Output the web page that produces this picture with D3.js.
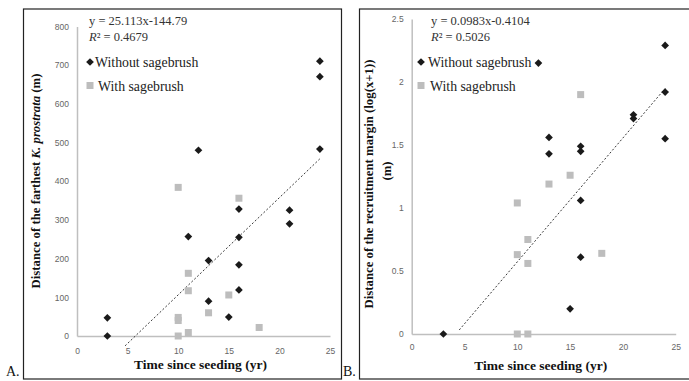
<!DOCTYPE html>
<html>
<head>
<meta charset="utf-8">
<script src="https://cdn.jsdelivr.net/npm/d3@7"></script>
<style>
  body { margin: 0; background: #fff; }
  svg { display: block; }
  .tick text { font-family: "Liberation Sans", sans-serif; font-size: 8.5px; fill: #666; }
  .serif { font-family: "Liberation Serif", "DejaVu Serif", serif; }
</style>
</head>
<body>
<svg id="chart" width="689" height="381"></svg>
<script>
// panel A : farthest K. prostrata (m)
var aWithoutX = [3, 3, 11, 12, 13, 13, 15, 16, 16, 16, 16, 21, 21, 24, 24, 24];
var aWithoutY = [47, 0, 257, 480, 195, 90, 49, 328, 255, 184, 119, 325, 290, 710, 670, 483];
var aWithX = [10, 10, 10, 10, 11, 11, 11, 13, 15, 16, 18];
var aWithY = [384, 48, 40, 0, 162, 117, 9, 60, 106, 356, 22];
var aXTicks = [0, 5, 10, 15, 20, 25];
var aYTicks = [0, 100, 200, 300, 400, 500, 600, 700, 800];

// panel B : recruitment margin (log(x+1)) (m)
var bWithoutX = [3, 12, 13, 13, 15, 16, 16, 16, 16, 21, 21, 24, 24, 24];
var bWithoutY = [0, 2.15, 1.56, 1.43, 0.2, 1.49, 1.45, 1.06, 0.61, 1.74, 1.71, 2.29, 1.92, 1.55];
var bWithX = [10, 10, 10, 11, 11, 11, 13, 15, 16, 18];
var bWithY = [1.04, 0.63, 0, 0.75, 0.56, 0, 1.19, 1.26, 1.9, 0.64];
var bXTicks = [0, 5, 10, 15, 20, 25];
var bYTicks = [0, 0.5, 1, 1.5, 2, 2.5];

var svg = d3.select("#chart");

function zip(xs, ys) {
  return xs.map((x, i) => ({ x: x, y: ys[i] }));
}

function drawPanel(p) {
  let g = svg.append("g");

  // outer frame
  g.append("rect")
    .attr("x", p.box[0]).attr("y", p.box[1])
    .attr("width", p.box[2]).attr("height", p.box[3])
    .attr("fill", "none").attr("stroke", "#222").attr("stroke-width", 1.2);

  let xScale = d3.scaleLinear().domain([0, 25]).range(p.xRange);
  let yScale = d3.scaleLinear().domain(p.yDomain).range(p.yRange);

  g.append("g")
    .attr("transform", "translate(" + p.xRange[0] + ",0)")
    .call(d3.axisLeft(yScale).tickValues(p.yTicks).tickFormat(d => String(d))
      .tickSize(0).tickPadding(8).tickSizeOuter(0));
  g.append("g")
    .attr("transform", "translate(0," + p.yRange[0] + ")")
    .call(d3.axisBottom(xScale).tickValues(p.xTicks).tickFormat(d => String(d))
      .tickSize(0).tickPadding(p.xPad).tickSizeOuter(0));
  g.selectAll(".domain").attr("stroke", "#bfbfbf").attr("stroke-width", 1.5);

  // trend line (dotted)
  g.append("line")
    .attr("x1", xScale(p.trendFrom)).attr("y1", yScale(p.slope * p.trendFrom + p.icpt))
    .attr("x2", xScale(24)).attr("y2", yScale(p.slope * 24 + p.icpt))
    .attr("stroke", "#222").attr("stroke-width", 0.9)
    .attr("stroke-dasharray", "2,2");

  // with sagebrush - grey squares
  g.selectAll(".sq")
    .data(zip(p.withX, p.withY))
    .join("rect")
    .attr("class", "sq")
    .attr("x", d => xScale(d.x) - 3.5)
    .attr("y", d => yScale(d.y) - 3.5)
    .attr("width", 7).attr("height", 7)
    .attr("fill", "#bdbdbd");

  // without sagebrush - black diamonds
  let diamond = d3.symbol().type(d3.symbolDiamond2).size(38);
  g.selectAll(".dm")
    .data(zip(p.withoutX, p.withoutY))
    .join("path")
    .attr("class", "dm")
    .attr("transform", d => "translate(" + xScale(d.x) + "," + yScale(d.y) + ")")
    .attr("d", diamond)
    .attr("fill", "#1a1a1a");

  // equation + R2
  g.append("text").attr("class", "serif")
    .attr("x", p.eqX).attr("y", 25)
    .style("font-size", "12.5px").attr("fill", "#333")
    .text(p.eq);
  let r2 = g.append("text").attr("class", "serif")
    .attr("x", p.eqX).attr("y", 41)
    .style("font-size", "12.5px").attr("fill", "#333");
  r2.append("tspan").style("font-style", "italic").text("R");
  r2.append("tspan").text("² = " + p.r2);

  // legend
  g.append("path")
    .attr("transform", "translate(" + p.legX + ",62)")
    .attr("d", diamond).attr("fill", "#1a1a1a");
  g.append("text").attr("class", "serif")
    .attr("x", p.legX + p.legGap[0]).attr("y", 66.5)
    .style("font-size", "13.8px").attr("fill", "#222")
    .text("Without sagebrush");
  g.append("rect")
    .attr("x", p.legX - 3.5).attr("y", 82).attr("width", 7).attr("height", 7)
    .attr("fill", "#bdbdbd");
  g.append("text").attr("class", "serif")
    .attr("x", p.legX + p.legGap[1]).attr("y", 90.5)
    .style("font-size", "13.8px").attr("fill", "#222")
    .text("With sagebrush");

  // x title
  g.append("text").attr("class", "serif")
    .attr("x", (p.xRange[0] + p.xRange[1]) / 2 - 3).attr("y", p.xTitleY)
    .attr("text-anchor", "middle")
    .style("font-size", "13.5px").style("font-weight", "bold").attr("fill", "#111")
    .text("Time since seeding (yr)");

  // panel letter
  g.append("text").attr("class", "serif")
    .attr("x", p.letterX).attr("y", 376)
    .style("font-size", "14px").attr("fill", "#111")
    .text(p.letter);

  return g;
}

let gA = drawPanel({
  box: [23.5, 9, 318, 370],
  xRange: [77, 330], yDomain: [0, 800], yRange: [336, 26.4],
  xTicks: aXTicks, yTicks: aYTicks, xPad: 12,
  withoutX: aWithoutX, withoutY: aWithoutY, withX: aWithX, withY: aWithY,
  slope: 25.113, icpt: -144.79, trendFrom: 4.75,
  eq: "y = 25.113x-144.79", r2: "0.4679", eqX: 89,
  legX: 90, legGap: [5, 8], xTitleY: 369, letter: "A.", letterX: 6
});

// y title for A, K. prostrata in italics
let tA = gA.append("text").attr("class", "serif")
  .attr("transform", "translate(40,181) rotate(-90)")
  .attr("text-anchor", "middle")
  .style("font-size", "12.8px").style("font-weight", "bold").attr("fill", "#111");
tA.append("tspan").text("Distance of the farthest ");
tA.append("tspan").style("font-style", "italic").text("K. prostrata");
tA.append("tspan").text(" (m)");

let gB = drawPanel({
  box: [359.5, 9, 335, 370],
  xRange: [411.7, 675.7], yDomain: [0, 2.5], yRange: [334, 19],
  xTicks: bXTicks, yTicks: bYTicks, xPad: 10,
  withoutX: bWithoutX, withoutY: bWithoutY, withX: bWithX, withY: bWithY,
  slope: 0.0983, icpt: -0.4104, trendFrom: 4.5,
  eq: "y = 0.0983x-0.4104", r2: "0.5026", eqX: 431,
  legX: 421, legGap: [7, 9], xTitleY: 370, letter: "B.", letterX: 343
});

gB.append("text").attr("class", "serif")
  .attr("transform", "translate(373,184) rotate(-90)")
  .attr("text-anchor", "middle")
  .style("font-size", "12.8px").style("font-weight", "bold").attr("fill", "#111")
  .text("Distance of the recruitment margin (log(x+1))");
gB.append("text").attr("class", "serif")
  .attr("transform", "translate(391,171) rotate(-90)")
  .attr("text-anchor", "middle")
  .style("font-size", "12.8px").style("font-weight", "bold").attr("fill", "#111")
  .text("(m)");
</script>
</body>
</html>
